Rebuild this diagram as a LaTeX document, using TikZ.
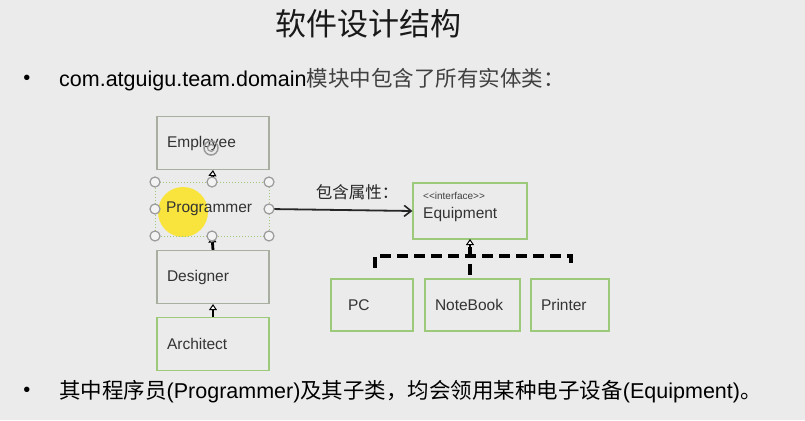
\documentclass[tikz,border=0pt]{standalone}
\usepackage{fontspec}
\setmainfont{Liberation Sans}
\newfontfamily\cjk{Noto Sans CJK SC}
\usetikzlibrary{arrows.meta}
\definecolor{bg}{HTML}{EBEBEB}
\definecolor{boxgreen}{HTML}{9CC97A}
\definecolor{boxgray}{HTML}{A8AFA0}
\definecolor{handle}{HTML}{9A9A9A}
\tikzset{
  cls/.style={draw=#1, line width=1.2pt, fill=bg, minimum width=112pt, minimum height=53pt,
    inner sep=0pt, font=\fontsize{15.5}{16}\selectfont, text=black!80},
  cls/.default=boxgreen,
  impl/.style={draw=boxgreen, line width=1.2pt, fill=bg, minimum height=52pt,
    inner sep=0pt, font=\fontsize{15.5}{16}\selectfont, text=black!80},
  inherit/.style={line width=2.8pt, black, -{Triangle[open, length=6pt, width=8pt, line width=1pt, fill=white]}},
  realize/.style={line width=3.2pt, black, dash pattern=on 11pt off 6pt},
  hnd/.style={circle, draw=handle, line width=1.2pt, fill=bg!60!white, minimum size=10pt, inner sep=0pt},
  lbl/.style={anchor=west, inner sep=0pt},
}
\begin{document}
\begin{tikzpicture}[x=1pt,y=-1pt]
\fill[bg] (0,0) rectangle (805,420);
\useasboundingbox (0,0) rectangle (805,420);

% title and bullets
\node (title) at (368,24) {\cjk\fontsize{31}{32}\selectfont\color{black!90} 软件设计结构};
\node (b1) at (27,80) {\fontsize{20}{22}\selectfont •};
\node[lbl] (t1) at (59,80) {\fontsize{21.5}{24}\selectfont com.atguigu.team.domain{\cjk\color{black!75}模块中包含了所有实体类：}};
\node (b2) at (27,392) {\fontsize{20}{22}\selectfont •};
\node[lbl] (t2) at (59,392) {\fontsize{21.5}{24}\selectfont {\cjk 其中程序员}(Programmer){\cjk 及其子类，均会领用某种电子设备}(Equipment){\cjk 。}};

% cursor highlight (behind the Programmer text)
\fill[yellow!85!orange, opacity=0.75] (183,212) circle (25);

% class boxes (left column)
\node[cls=boxgray, text width=92pt, align=left] (emp) at (213,143) {Employee};
\node[draw=boxgreen, dotted, line width=1pt, minimum width=114pt, minimum height=54pt, inner sep=0pt,
  font=\fontsize{15.5}{16}\selectfont, text=black!80, text width=92pt, align=left] (prog) at (212,209) {Programmer};
\node[cls=boxgray, text width=92pt, align=left] (des) at (213,277) {Designer};
\node[cls, text width=92pt, align=left] (arch) at (213,344) {Architect};

% interface
\node[cls, minimum width=114pt, minimum height=56pt] (equip) at (470,211) {};
\node[lbl, font=\fontsize{10}{11}\selectfont, text=black!75] (iface) at (423,196) {{<}{<}interface{>}{>}};
\node[lbl, font=\fontsize{15.5}{16}\selectfont, text=black!80] (eqname) at (423,214) {Equipment};

% implementations
\node[impl, minimum width=82pt, text width=48pt, align=left] (pc) at (372,305) {PC};
\node[impl, minimum width=95pt, text width=75pt, align=left] (nb) at (472.5,305) {NoteBook};
\node[impl, minimum width=78pt, text width=58pt, align=left] (prn) at (570,305) {Printer};

% inheritance
\draw[inherit] (prog.north) -- (emp.south);
\draw[inherit] (des.north) -- (prog.south);
\draw[inherit] (arch.north) -- (des.south);

% association
\draw[line width=1.8pt, black!85, -{Straight Barb[length=7pt, width=11pt, line width=1.6pt]}] (prog.east) -- (equip.west);
\node[font=\cjk\fontsize{16.5}{17}\selectfont, text=black!85] (assoc) at (357,192) {包含属性：};

% realization
\coordinate (pcTop) at (375,268);
\coordinate (prnTop) at (571,268);
\coordinate (nbTop) at (470,275);
\coordinate (eqBot) at (470,239);
\draw[realize] (pcTop) -- (375,256) -- (571,256) -- (prnTop);
\draw[realize] (nbTop) -- (470,246);
\draw[line width=2.8pt, black, -{Triangle[open, length=6pt, width=8pt, line width=1pt, fill=white]}] (470,247) -- (eqBot);

% selection handles on Programmer
\foreach \x/\y [count=\i] in {155/182,212/182,269/182,155/209,269/209,155/236,212/236,269/236}
  \node[hnd] (h\i) at (\x,\y) {};
% rotation handle on Employee
\node[circle, draw=handle, line width=1.5pt, minimum size=14pt, inner sep=0pt] (rot) at (211,148) {};
\draw[handle, line width=1.2pt] (rot.center) ++(40:3.5pt) arc (40:330:3.5pt);
\end{tikzpicture}
\end{document}
